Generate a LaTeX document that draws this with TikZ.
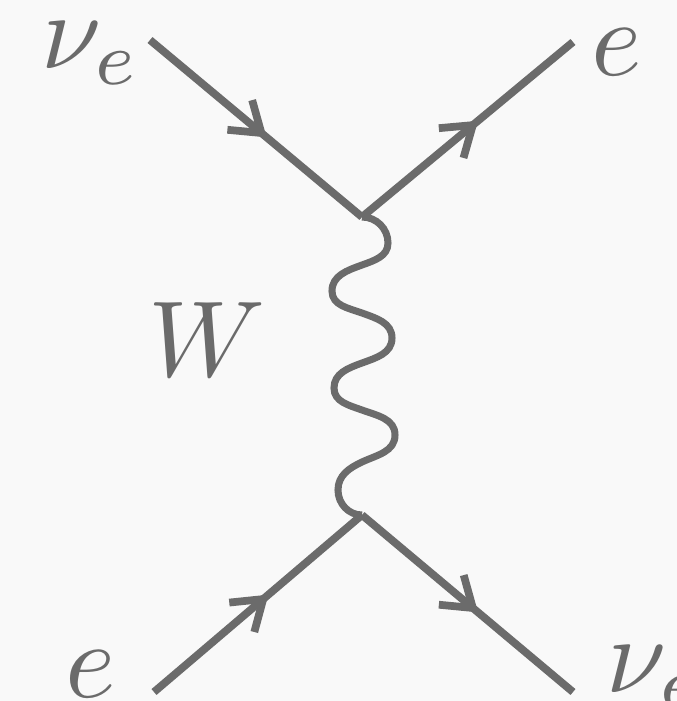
\documentclass[tikz,border=0pt]{standalone}
\usepackage{amsmath,amssymb}
\usepackage{tikz}
\usetikzlibrary{arrows.meta, decorations.markings}
\usepackage{xcolor}
\definecolor{bgcol}{HTML}{F9F9F9}
\definecolor{inkcol}{HTML}{6B6B6B}

\begin{document}
\begin{tikzpicture}[
  x=0.02cm, y=-0.02cm,
  lab/.style={text=inkcol, scale=6.15, inner sep=0pt},
  line/.style={draw=inkcol, line width=4.4pt},
  fermion/.style={line, postaction={decorate}, decoration={markings,
      mark=at position 0.55 with {\arrow[inkcol, line width=4.4pt]{Straight Barb[length=16pt, width=22pt]}}}},
  wave/.style={draw=inkcol, line width=4pt}
]
  \fill[bgcol] (0,0) rectangle (677,701);
  \useasboundingbox (0,0) rectangle (677,701);
  \clip (0,0) rectangle (677,701);

  \coordinate (nuin)  at (150,40);
  \coordinate (eout)  at (573,42);
  \coordinate (vtop)  at (362,217);
  \coordinate (vbot)  at (362,515);
  \coordinate (ein)   at (154,692);
  \coordinate (nuout) at (573,692);

  \node[lab] (nuinlab)  at (91,53)    {$\nu_e$};
  \node[lab] (eoutlab)  at (617,52)   {$e$};
  \node[lab] (wlab)     at (207,340)  {$W$};
  \node[lab] (einlab)   at (91,674)   {$e$};
  \node[lab, anchor=west] (nuoutlab) at (604,677) {$\nu_e$};

  \draw[fermion] (nuin) -- (vtop);
  \draw[fermion] (vtop) -- (eout);
  \draw[fermion] (ein)  -- (vbot);
  \draw[fermion] (vbot) -- (nuout);

  \draw[wave] (vtop) to[out=0,in=90] (388,243) to[out=-90,in=20] (362,265)
    to[out=200,in=90] (332,291) to[out=-90,in=160] (362,313)
    to[out=-20,in=90] (392,338) to[out=-90,in=20] (362,363)
    to[out=200,in=90] (334,388) to[out=-90,in=160] (362,410)
    to[out=-20,in=90] (395,435) to[out=-90,in=25] (362,462)
    to[out=205,in=90] (338,490) to[out=-90,in=180] (vbot);
\end{tikzpicture}
\end{document}
